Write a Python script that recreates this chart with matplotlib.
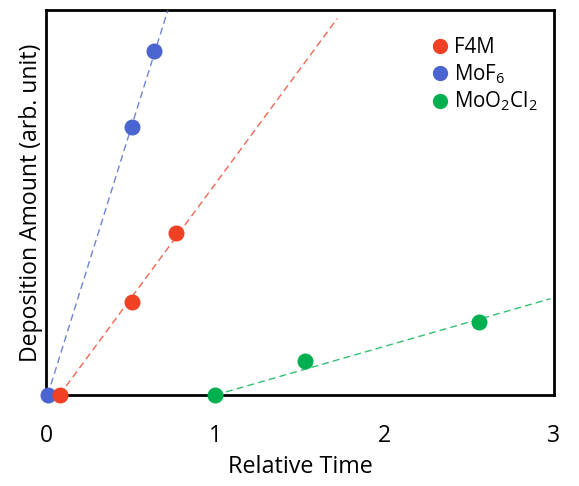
import matplotlib
matplotlib.use("Agg")
import matplotlib.pyplot as plt
import numpy as np

plt.rcParams['font.family'] = ['Open Sans', 'DejaVu Sans']
plt.rcParams['mathtext.fontset'] = 'custom'
plt.rcParams['mathtext.rm'] = 'Open Sans'

# series data (relative time, deposition amount)
names = ["F4M", "MoF$_6$", "MoO$_2$Cl$_2$"]
colors = ["#F04124", "#4A64D0", "#00B050"]
x_f4m = [0.08, 0.51, 0.77]
y_f4m = [0.0, 2.41, 4.21]
x_mof6 = [0.01, 0.51, 0.64]
y_mof6 = [0.0, 6.96, 8.94]
x_moo2cl2 = [1.0, 1.53, 2.56]
y_moo2cl2 = [0.0, 0.88, 1.90]
line_end = [1.72, 0.75, 2.98]

xs = [x_f4m, x_mof6, x_moo2cl2]
ys = [y_f4m, y_mof6, y_moo2cl2]
zorders = [6, 5, 5]

fig = plt.figure(figsize=(5.79, 4.86), dpi=100)
ax = fig.add_axes([46 / 579, (486 - 395) / 486, (554 - 46) / 579, (395 - 10) / 486])

for name, c, x, y, xe, z in zip(names, colors, xs, ys, line_end, zorders):
    x = np.array(x)
    y = np.array(y)
    # fit a line anchored at the first point
    dx = x - x[0]
    slope = np.sum(dx * y) / np.sum(dx * dx)
    lx = np.array([x[0], xe])
    ax.plot(lx, y[0] + slope * (lx - x[0]), '--', color=c, lw=1.0, alpha=0.8,
            dashes=(5, 3), zorder=3)
    ax.plot(x, y, 'o', color=c, ms=10.5, clip_on=False, zorder=z,
            linestyle='none', label=name)

ax.set_xlim(0, 3)
ax.set_ylim(0, 10)
ax.set_xticks([0, 1, 2, 3])
ax.set_yticks([])
ax.tick_params(axis='x', length=0, pad=21, labelsize=16.5)
for s in ax.spines.values():
    s.set_linewidth(2)
    s.set_color('black')

ax.set_xlabel("Relative Time", fontsize=16.8, labelpad=5)
ax.set_ylabel("Deposition Amount (arb. unit)", fontsize=16.6, labelpad=2)

ax.legend(loc='upper right', bbox_to_anchor=(1.016, 0.994), frameon=False, fontsize=14.8,
          handletextpad=0.1, labelspacing=0.2, borderaxespad=0.8,
          handlelength=1.2, markerscale=0.95)

fig.savefig("out.png", dpi=100)
